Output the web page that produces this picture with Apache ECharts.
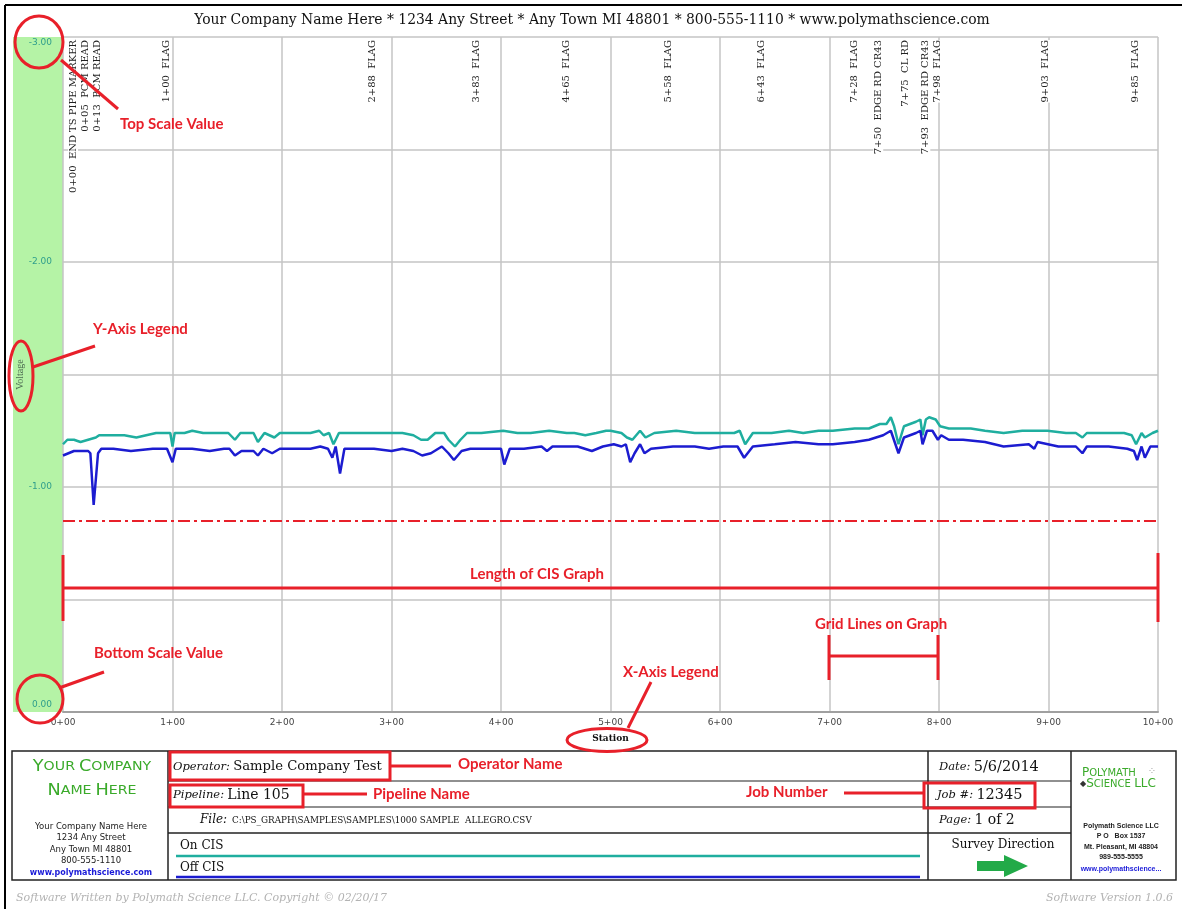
<!DOCTYPE html>
<html><head><meta charset="utf-8">
<script src="https://cdn.jsdelivr.net/npm/echarts@6/dist/echarts.min.js"></script>
<style>html,body{margin:0;padding:0;background:#fff}#c{width:1182px;height:909px}</style>
</head><body><div id="c"></div><script>
// ---------------- data ----------------
const stationTickLabels = ['0+00','1+00','2+00','3+00','4+00','5+00','6+00','7+00','8+00','9+00','10+00'];
const voltageTickLabels = ['-3.00','-2.00','-1.00','0.00'];

const onStations = [0,4,10,16,23,30,33,46,56,67,76,85,95,98,100,102,111,118,128,141,151,157,162,174,178,184,193,198,209,226,234,238,243,247,252,258,268,284,300,310,320,327,333,340,348,352,358,363,369,382,402,415,427,444,460,467,477,487,496,500,510,515,520,527,532,540,560,577,596,613,618,623,630,647,663,676,690,703,723,736,746,752,756,759,763,768,779,783,785,788,791,797,801,809,829,842,859,876,899,916,925,931,935,955,969,976,980,985,988,995,1000];
const onValues = [-1.19,-1.21,-1.21,-1.20,-1.21,-1.22,-1.23,-1.23,-1.23,-1.22,-1.23,-1.24,-1.24,-1.24,-1.18,-1.24,-1.24,-1.25,-1.24,-1.24,-1.24,-1.21,-1.24,-1.24,-1.20,-1.24,-1.22,-1.24,-1.24,-1.24,-1.25,-1.23,-1.24,-1.19,-1.24,-1.24,-1.24,-1.24,-1.24,-1.24,-1.23,-1.21,-1.21,-1.24,-1.24,-1.21,-1.18,-1.21,-1.24,-1.24,-1.25,-1.24,-1.24,-1.25,-1.24,-1.24,-1.23,-1.24,-1.25,-1.25,-1.24,-1.22,-1.21,-1.25,-1.22,-1.24,-1.25,-1.24,-1.24,-1.24,-1.25,-1.19,-1.24,-1.24,-1.25,-1.24,-1.25,-1.25,-1.26,-1.26,-1.28,-1.28,-1.31,-1.27,-1.19,-1.27,-1.29,-1.30,-1.23,-1.30,-1.31,-1.30,-1.27,-1.26,-1.26,-1.25,-1.24,-1.25,-1.25,-1.24,-1.24,-1.22,-1.24,-1.24,-1.24,-1.23,-1.19,-1.24,-1.22,-1.24,-1.25];

const offStations = [0,10,23,25,28,32,35,46,62,82,95,100,103,118,134,147,152,157,163,174,178,183,191,198,212,226,235,242,246,249,253,257,268,284,300,310,320,328,336,346,352,357,364,372,389,400,403,408,421,437,442,447,470,483,493,503,510,514,518,522,527,531,537,557,577,590,603,616,622,630,650,669,690,703,723,736,749,756,763,768,779,783,785,789,794,799,802,809,822,842,859,882,887,890,909,925,931,935,955,972,978,981,985,988,993,1000];
const offValues = [-1.14,-1.16,-1.16,-1.15,-0.92,-1.15,-1.17,-1.17,-1.16,-1.17,-1.17,-1.11,-1.17,-1.17,-1.16,-1.17,-1.17,-1.14,-1.16,-1.16,-1.14,-1.17,-1.15,-1.17,-1.17,-1.17,-1.18,-1.17,-1.13,-1.18,-1.06,-1.17,-1.17,-1.17,-1.16,-1.17,-1.16,-1.14,-1.15,-1.18,-1.15,-1.12,-1.16,-1.17,-1.17,-1.17,-1.10,-1.17,-1.17,-1.18,-1.16,-1.18,-1.18,-1.16,-1.18,-1.19,-1.18,-1.19,-1.11,-1.15,-1.19,-1.15,-1.17,-1.18,-1.18,-1.17,-1.18,-1.18,-1.13,-1.18,-1.19,-1.20,-1.19,-1.19,-1.20,-1.21,-1.23,-1.25,-1.15,-1.22,-1.24,-1.25,-1.19,-1.25,-1.25,-1.21,-1.23,-1.21,-1.21,-1.20,-1.18,-1.19,-1.17,-1.20,-1.18,-1.18,-1.15,-1.18,-1.18,-1.17,-1.16,-1.12,-1.18,-1.13,-1.18,-1.18];

const criterionValue = -0.85;

const flagStations = [0,5,13,100,288,383,465,558,643,728,750,775,793,798,903,985];
const flagNotes = ['END TS PIPE MARKER','PCM READ','PCM READ','FLAG','FLAG','FLAG','FLAG','FLAG','FLAG','FLAG','EDGE RD CR43','CL RD','EDGE RD CR43','FLAG','FLAG','FLAG'];

// ---------------- chart ----------------
const RED = '#e8202a';
const TEAL = '#1fae9f';
const BLUE = '#1c1cd0';
const PL = 63, PR = 1158, PT = 37, PB = 712;

const chart = echarts.init(document.getElementById('c'), null, {renderer: 'canvas'});

function stationLabel(s) { return Math.floor(s / 100) + '+' + String(s % 100).padStart(2, '0'); }

chart.setOption({
  animation: false,
  backgroundColor: '#fff',
  grid: {left: PL, right: 1182 - PR, top: PT, bottom: 909 - PB, containLabel: false, outerBoundsMode: 'none'},
  xAxis: {
    type: 'value', min: 0, max: 1000, interval: 100,
    axisLine: {show: true, onZero: false, lineStyle: {color: '#a0a0a0', width: 2}},
    axisTick: {show: false},
    splitLine: {show: true, lineStyle: {color: '#c4c4c4', width: 1.5}},
    axisLabel: {margin: 6, color: '#444', fontFamily: 'DejaVu Sans', fontSize: 9,
      showMinLabel: true, showMaxLabel: true,
      formatter: v => stationTickLabels[Math.round(v / 100)]},
    name: 'Station', nameLocation: 'middle', nameGap: 22, nameMoveOverlap: false,
    nameTextStyle: {fontFamily: 'DejaVu Serif', fontWeight: 'bold', fontSize: 9, color: '#111'}
  },
  yAxis: {
    type: 'value', min: -3, max: 0, interval: 0.5, inverse: true,
    axisLine: {show: false}, axisTick: {show: false},
    splitLine: {show: true, lineStyle: {color: '#c4c4c4', width: 1.5}},
    axisLabel: {margin: 11, color: '#2f9e8c', fontFamily: 'DejaVu Sans', fontSize: 9,
      showMinLabel: true, showMaxLabel: true,
      formatter: v => {
        if (Math.abs(v - Math.round(v)) > 1e-6) return '';
        const t = voltageTickLabels[Math.round(v) + 3];
        if (Math.round(v) === -3) return '{t|' + t + '}';
        if (Math.round(v) === 0) return '{b|' + t + '}';
        return t;
      },
      rich: {
        t: {padding: [12, 0, 0, 0], color: '#2f9e8c', fontFamily: 'DejaVu Sans', fontSize: 9},
        b: {padding: [0, 0, 14, 0], color: '#2f9e8c', fontFamily: 'DejaVu Sans', fontSize: 9}
      }},
    name: 'Voltage', nameLocation: 'middle', nameRotate: 90, nameGap: 38, nameMoveOverlap: false,
    nameTextStyle: {fontFamily: 'Liberation Serif', fontSize: 10, color: '#4d6b52'}
  },
  series: [
    {type: 'line', name: 'On CIS', showSymbol: false, z: 3,
     data: onStations.map((s, i) => [s, onValues[i]]),
     lineStyle: {color: TEAL, width: 2.5}, itemStyle: {color: TEAL}},
    {type: 'line', name: 'Off CIS', showSymbol: false, z: 4,
     data: offStations.map((s, i) => [s, offValues[i]]),
     lineStyle: {color: BLUE, width: 2.5}, itemStyle: {color: BLUE},
     markLine: {silent: true, symbol: 'none', label: {show: false},
       lineStyle: {color: RED, width: 2, type: [12, 4, 3, 4]},
       data: [{yAxis: criterionValue}]}}
  ]
});

// ---------------- graphics ----------------
function T(x, y, text, font, fill, align, va, extra) {
  align = align || 'left'; va = va || 'middle';
  return Object.assign({type: 'text', x: x, y: y,
    style: {text: text, font: font, fill: fill, align: align, verticalAlign: va, textAlign: align, textVerticalAlign: va}}, extra || {});
}
function L(x1, y1, x2, y2, color, w) {
  return {type: 'line', shape: {x1: x1, y1: y1, x2: x2, y2: y2}, style: {stroke: color, lineWidth: w}};
}
function R(x, y, w, h, color, lw) {
  return {type: 'rect', shape: {x: x, y: y, width: w, height: h}, style: {fill: 'none', stroke: color, lineWidth: lw}};
}
function E(cx, cy, rx, ry) {
  return {type: 'ellipse', shape: {cx: cx, cy: cy, rx: rx, ry: ry}, style: {fill: 'none', stroke: RED, lineWidth: 3}, z: 50};
}
const ANN = 'bold 15px Lato';
const g = [];

// frame
g.push(L(5, 5, 5, 909, '#000', 2));
g.push(L(5, 5, 1182, 5, '#000', 2));
// green scale band
g.push({type: 'rect', shape: {x: 13, y: PT, width: PL - 13, height: PB - PT}, style: {fill: '#b5f3a6'}, z: -10});
// title
g.push(T(592, 20, 'Your Company Name Here * 1234 Any Street * Any Town MI 48801 * 800-555-1110 * www.polymathscience.com', '13.9px "DejaVu Serif"', '#111', 'center'));

// flag labels (positions from the x scale)
let prev = -1e9;
flagStations.forEach((s, i) => {
  const px = chart.convertToPixel({xAxisIndex: 0}, s);
  let ax = Math.max(px - 1, prev + 12);
  if (i === 0) ax = Math.max(ax, PL + 15);
  prev = ax;
  g.push({type: 'text', x: ax, y: PT + 3, rotation: Math.PI / 2, z: 20,
    style: {text: stationLabel(s) + '  ' + flagNotes[i], font: '10px "DejaVu Serif"', fill: '#222',
      align: 'right', verticalAlign: 'bottom', textAlign: 'right', textVerticalAlign: 'bottom', backgroundColor: '#fff'}});
});

// ---- bottom info table ----
const TB = '#222';
g.push(R(12, 751, 1164, 129, TB, 1.5));
g.push(L(168, 751, 168, 880, TB, 1.5));
g.push(L(928, 751, 928, 880, TB, 1.5));
g.push(L(1071, 751, 1071, 880, TB, 1.5));
g.push(L(168, 781, 1071, 781, TB, 1.2));
g.push(L(168, 807, 1071, 807, TB, 1.2));
g.push(L(168, 833, 1071, 833, TB, 1.5));

const GREEN = '#3aaa2a';
g.push({type: 'text', x: 92, y: 767, scaleX: 1.18,
  style: {text: '{a|Y}{b|OUR} {a|C}{b|OMPANY}', align: 'center', verticalAlign: 'middle', textAlign: 'center', textVerticalAlign: 'middle',
    rich: {a: {font: '15px "DejaVu Sans"', fill: GREEN, color: GREEN}, b: {font: '12px "DejaVu Sans"', fill: GREEN, color: GREEN}}}});
g.push({type: 'text', x: 92, y: 791, scaleX: 1.18,
  style: {text: '{a|N}{b|AME} {a|H}{b|ERE}', align: 'center', verticalAlign: 'middle', textAlign: 'center', textVerticalAlign: 'middle',
    rich: {a: {font: '15px "DejaVu Sans"', fill: GREEN, color: GREEN}, b: {font: '12px "DejaVu Sans"', fill: GREEN, color: GREEN}}}});
const addrFont = '8.5px "DejaVu Sans"';
g.push(T(91, 827, 'Your Company Name Here', addrFont, '#222', 'center'));
g.push(T(91, 838, '1234 Any Street', addrFont, '#222', 'center'));
g.push(T(91, 850, 'Any Town MI 48801', addrFont, '#222', 'center'));
g.push(T(91, 861, '800-555-1110', addrFont, '#222', 'center'));
g.push(T(91, 873, 'www.polymathscience.com', 'bold 8px "DejaVu Sans"', '#1a1ad8', 'center'));

function labelVal(x, y, lab, val, vs) {
  return {type: 'text', x: x, y: y,
    style: {text: '{i|' + lab + '} {v|' + val + '}', align: 'left', verticalAlign: 'middle', textAlign: 'left', textVerticalAlign: 'middle',
      rich: {i: {font: 'italic 11.5px "DejaVu Serif"', fill: '#111', color: '#111'}, v: {font: (vs || 14) + 'px "DejaVu Serif"', fill: '#111', color: '#111'}}}};
}
g.push(labelVal(173, 767, 'Operator:', 'Sample Company Test', 13.2));
g.push(labelVal(173, 795, 'Pipeline:', 'Line 105', 14));
g.push(T(200, 820, 'File:', 'italic 12px "DejaVu Serif"', '#111'));
g.push(T(232, 821, 'C:\\PS_GRAPH\\SAMPLES\\SAMPLES\\1000 SAMPLE  ALLEGRO.CSV', '8.8px "DejaVu Serif"', '#111'));
g.push(T(180, 846, 'On CIS', '12px "DejaVu Serif"', '#111'));
g.push(L(176, 856, 920, 856, TEAL, 2.5));
g.push(T(180, 868, 'Off CIS', '12px "DejaVu Serif"', '#111'));
g.push(L(176, 877, 920, 877, BLUE, 2.5));

g.push(labelVal(939, 767, 'Date:', '5/6/2014', 14.5));
g.push(labelVal(937, 795, 'Job #:', '12345', 14.5));
g.push(labelVal(939, 820, 'Page:', '1 of 2', 14));
g.push(T(1003, 845, 'Survey Direction', '12px "DejaVu Serif"', '#111', 'center'));
g.push({type: 'polygon', shape: {points: [[977, 861], [1004, 861], [1004, 855], [1028, 866], [1004, 877], [1004, 871], [977, 871]]}, style: {fill: '#22aa48'}});

g.push({type: 'text', x: 1082, y: 773,
  style: {text: '{a|P}{b|OLYMATH}', align: 'left', verticalAlign: 'middle', textAlign: 'left', textVerticalAlign: 'middle',
    rich: {a: {font: '12px "DejaVu Sans"', fill: GREEN, color: GREEN}, b: {font: '10px "DejaVu Sans"', fill: GREEN, color: GREEN}}}});
g.push(T(1152, 771, '⁘', '10px "DejaVu Sans"', '#aaa', 'center'));
g.push({type: 'text', x: 1080, y: 784,
  style: {text: '{c|◆}{a|S}{b|CIENCE} {a|LLC}', align: 'left', verticalAlign: 'middle', textAlign: 'left', textVerticalAlign: 'middle',
    rich: {c: {font: '8px "DejaVu Sans"', fill: '#333', color: '#333'}, a: {font: '12px "DejaVu Sans"', fill: GREEN, color: GREEN}, b: {font: '10px "DejaVu Sans"', fill: GREEN, color: GREEN}}}});
const pmFont = 'bold 7px "Liberation Sans"';
g.push(T(1121, 826, 'Polymath Science LLC', pmFont, '#222', 'center'));
g.push(T(1121, 836, 'P O   Box 1537', pmFont, '#222', 'center'));
g.push(T(1121, 847, 'Mt. Pleasant, MI 48804', pmFont, '#222', 'center'));
g.push(T(1121, 857, '989-555-5555', pmFont, '#222', 'center'));
g.push(T(1121, 869, 'www.polymathscience...', pmFont, '#1a1ad8', 'center'));

// footer
g.push(T(16, 898, 'Software Written by Polymath Science LLC. Copyright © 02/20/17', 'italic 11px "DejaVu Serif"', '#b3b3b3'));
g.push(T(1173, 898, 'Software Version 1.0.6', 'italic 11px "DejaVu Serif"', '#b3b3b3', 'right'));

// ---- red annotations ----
function A(o) { o.z = 50; return o; }
g.push(E(39, 42, 24, 26));
g.push(A(L(61, 60, 118, 109, RED, 3)));
g.push(A(T(120, 124, 'Top Scale Value', ANN, RED)));

g.push(E(21, 376, 12, 35));
g.push(A(L(33, 367, 95, 346, RED, 3)));
g.push(A(T(93, 329, 'Y-Axis Legend', ANN, RED)));

g.push(A(T(537, 574, 'Length of CIS Graph', ANN, RED, 'center')));
g.push(A(L(PL, 588, PR, 588, RED, 3)));
g.push(A(L(PL, 555, PL, 621, RED, 3)));
g.push(A(L(PR, 553, PR, 622, RED, 3)));

g.push(A(T(881, 624, 'Grid Lines on Graph', ANN, RED, 'center')));
g.push(A(L(829, 656, 938, 656, RED, 3)));
g.push(A(L(829, 635, 829, 680, RED, 3)));
g.push(A(L(938, 635, 938, 680, RED, 3)));

g.push(A(T(94, 653, 'Bottom Scale Value', ANN, RED)));
g.push(E(40, 699, 23, 24));
g.push(A(L(59, 688, 104, 672, RED, 3)));

g.push(A(T(623, 672, 'X-Axis Legend', ANN, RED)));
g.push(E(607, 740, 40, 11.5));
g.push(A(L(628, 728, 651, 682, RED, 3)));

g.push(A(R(170, 752, 220, 28, RED, 3)));
g.push(A(L(391, 766, 451, 766, RED, 3)));
g.push(A(T(458, 764, 'Operator Name', ANN, RED)));

g.push(A(R(170, 785, 133, 22, RED, 3)));
g.push(A(L(303, 794, 367, 794, RED, 3)));
g.push(A(T(373, 794, 'Pipeline Name', ANN, RED)));

g.push(A(T(746, 792, 'Job Number', ANN, RED)));
g.push(A(L(844, 793, 923, 793, RED, 3)));
g.push(A(R(924, 783, 111, 25, RED, 3)));

chart.setOption({graphic: {elements: g}});
</script></body></html>
